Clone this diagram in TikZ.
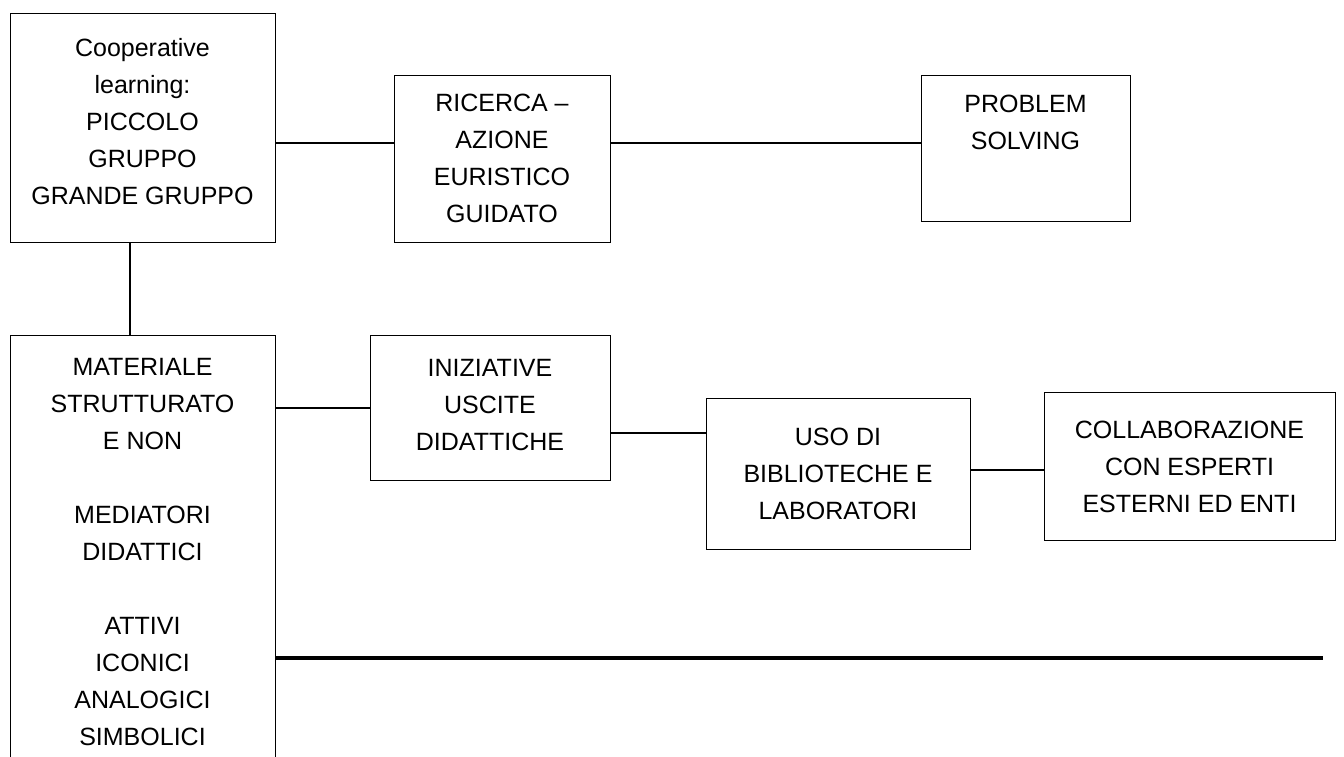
\documentclass[tikz,border=0pt]{standalone}
\usepackage{fontspec}
\setmainfont{Liberation Sans}
\begin{document}
\begin{tikzpicture}[x=1pt,y=-1pt,
  box/.style={draw, line width=1.3pt, inner sep=0pt, anchor=north west},
  txt/.style={align=center, inner sep=0pt, anchor=north, font=\fontsize{25}{37}\selectfont},
  conn/.style={line width=1.3pt},
  thick conn/.style={line width=4pt}]
\useasboundingbox (0,0) rectangle (1344,757);
\clip (0,0) rectangle (1344,757);
% boxes
\node[box, minimum width=265pt, minimum height=229pt] (A) at (10,13) {};
\node[box, minimum width=216pt, minimum height=167pt] (B) at (394,75) {};
\node[box, minimum width=209pt, minimum height=146pt] (C) at (921,75) {};
\node[box, minimum width=265pt, minimum height=450pt] (D) at (10,335) {};
\node[box, minimum width=240pt, minimum height=145pt] (E) at (370,335) {};
\node[box, minimum width=264pt, minimum height=151pt] (F) at (706,398) {};
\node[box, minimum width=291pt, minimum height=148pt] (G) at (1044,392) {};
% texts
\node[txt] (tA) at (142.5,38) {Cooperative\\learning:\\PICCOLO\\GRUPPO\\GRANDE GRUPPO};
\node[txt] (tB) at (502,94) {RICERCA –\\AZIONE\\EURISTICO\\GUIDATO};
\node[txt] (tC) at (1025.5,95) {PROBLEM\\SOLVING};
\node[txt] (tD) at (142.5,358) {MATERIALE\\STRUTTURATO\\E NON\\[37pt]MEDIATORI\\DIDATTICI\\[37pt]ATTIVI\\ICONICI\\ANALOGICI\\SIMBOLICI};
\node[txt] (tE) at (490,359) {INIZIATIVE\\USCITE\\DIDATTICHE};
\node[txt] (tF) at (838,428) {USO DI\\BIBLIOTECHE E\\LABORATORI};
\node[txt] (tG) at (1189.5,421) {COLLABORAZIONE\\CON ESPERTI\\ESTERNI ED ENTI};
% connectors
\draw[conn] (A.east |- 0,143) -- (B.west |- 0,143);
\draw[conn] (B.east |- 0,143) -- (C.west |- 0,143);
\draw[conn] (A.south -| 130,0) -- (D.north -| 130,0);
\draw[conn] (D.east |- 0,408) -- (E.west |- 0,408);
\draw[conn] (E.east |- 0,433) -- (F.west |- 0,433);
\draw[conn] (F.east |- 0,470) -- (G.west |- 0,470);
\coordinate (lineend) at (1323,658);
\draw[thick conn] (D.east |- lineend) -- (lineend);
\end{tikzpicture}
\end{document}
